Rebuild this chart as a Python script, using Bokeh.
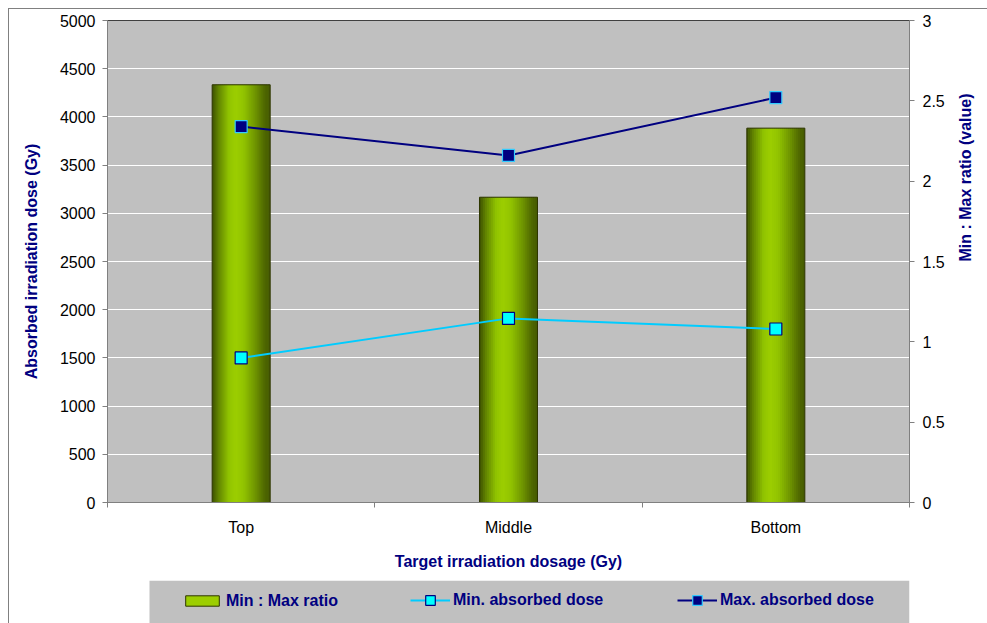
import math

from bokeh.embed import file_html
from bokeh.layouts import column
from bokeh.models import (BoxAnnotation, ColumnDataSource, FixedTicker, Legend,
                          LegendItem, LinearAxis, NumeralTickFormatter, Range1d)
from bokeh.plotting import figure
from bokeh.resources import INLINE
from bokeh.transform import dodge

# ---- data -------------------------------------------------------------
categories = ["Top", "Middle", "Bottom"]
min_max_ratio = [2.6, 1.9, 2.33]
min_absorbed_dose = [1500, 1910, 1800]
max_absorbed_dose = [3900, 3600, 4200]

dose_ticks = [0, 500, 1000, 1500, 2000, 2500, 3000, 3500, 4000, 4500, 5000]
ratio_ticks = [0, 0.5, 1, 1.5, 2, 2.5, 3]

# ---- styling ------------------------------------------------------------
FONT = "Liberation Sans"
NAVY = "#000080"
PLOT_BG = "#c0c0c0"
AXIS_GREY = "#808080"

# horizontal shading of each cylinder-like bar: (position across bar, r, g, b)
BAR_SHADE = [(0.0, 56, 74, 0), (0.12, 98, 132, 0), (0.3, 145, 196, 0),
             (0.42, 156, 206, 0), (0.55, 146, 196, 0), (0.75, 112, 150, 0),
             (0.9, 82, 108, 0), (1.0, 68, 88, 0)]
N_STRIPS = 29
BAR_WIDTH = 0.217

MIN_LINE = dict(line_color="#00ccff", line_width=2)
MIN_MARK = dict(marker="square", size=12, fill_color="#00ffff",
                line_color=NAVY, line_width=1.2)
MAX_LINE = dict(line_color=NAVY, line_width=2)
MAX_MARK = dict(marker="square", size=12, fill_color=NAVY,
                line_color="#33ccff", line_width=1.2)
BAR_EDGE = dict(fill_color=None, line_color="#2e3600", line_width=1)

FRAME_W = 802          # plot area width in pixels
LEGEND_H = 43          # height of the legend strip

slots = list(range(len(categories)))
x_centers = [i + 0.5 for i in slots]
boundaries = list(range(len(categories) + 1))

src = ColumnDataSource(dict(x=x_centers, ratio=min_max_ratio,
                            min_dose=min_absorbed_dose,
                            max_dose=max_absorbed_dose))

# ---- main chart ---------------------------------------------------------
p = figure(width=987, height=580, output_backend="svg", toolbar_location=None,
           x_range=Range1d(0, len(categories)), y_range=Range1d(0, dose_ticks[-1]),
           min_border_left=107, min_border_right=78, min_border_top=20,
           min_border_bottom=78, background_fill_color=PLOT_BG,
           border_fill_color=None, outline_line_color="#404040",
           outline_line_width=1)
p.extra_y_ranges = {"ratio": Range1d(0, ratio_ticks[-1])}

p.xgrid.visible = False
p.ygrid.ticker = FixedTicker(ticks=dose_ticks)
p.ygrid.grid_line_color = "white"
p.ygrid.grid_line_width = 1


def style_axis(ax):
    ax.axis_line_color = AXIS_GREY
    ax.major_tick_line_color = AXIS_GREY
    ax.minor_tick_line_color = AXIS_GREY
    ax.major_tick_in = 0
    ax.minor_tick_in = 0
    ax.major_label_text_font = FONT
    ax.major_label_text_font_size = "16px"
    ax.major_label_text_color = "black"
    ax.axis_label_text_font = FONT
    ax.axis_label_text_font_size = "16px"
    ax.axis_label_text_font_style = "bold"
    ax.axis_label_text_color = NAVY


xax = p.xaxis[0]
style_axis(xax)
xax.ticker = FixedTicker(ticks=x_centers, minor_ticks=boundaries)
xax.major_label_overrides = {x: c for x, c in zip(x_centers, categories)}
xax.major_tick_out = 0
xax.minor_tick_out = 5
xax.major_label_standoff = 11
xax.axis_label = "Target irradiation dosage (Gy)"
xax.axis_label_standoff = 14

yax = p.yaxis[0]
style_axis(yax)
yax.ticker = FixedTicker(ticks=dose_ticks)
yax.major_tick_out = 5
yax.minor_tick_out = 0
yax.major_label_standoff = 7
yax.axis_label = "Absorbed irradiation dose (Gy)"
yax.axis_label_standoff = 17

rax = LinearAxis(y_range_name="ratio", ticker=FixedTicker(ticks=ratio_ticks),
                 formatter=NumeralTickFormatter(format="0.[0]"),
                 axis_label="Min : Max ratio (value)")
style_axis(rax)
rax.major_tick_out = 5
rax.minor_tick_out = 0
rax.major_label_standoff = 8
rax.axis_label_standoff = 18
rax.axis_label_orientation = math.pi / 2
p.add_layout(rax, "right")


def shade(t):
    for (t0, r0, g0, b0), (t1, r1, g1, b1) in zip(BAR_SHADE, BAR_SHADE[1:]):
        if t0 <= t <= t1:
            f = (t - t0) / (t1 - t0)
            return "#%02x%02x%02x" % (round(r0 + (r1 - r0) * f),
                                      round(g0 + (g1 - g0) * f),
                                      round(b0 + (b1 - b0) * f))
    return "#%02x%02x%02x" % BAR_SHADE[-1][1:]


# shaded bars (Min : Max ratio, right axis), built from overlapping narrow strips
strip_w = BAR_WIDTH / N_STRIPS
for k in range(N_STRIPS):
    off = -BAR_WIDTH / 2 + (k + 0.5) * strip_w
    w = strip_w * (1.0 if k in (0, N_STRIPS - 1) else 1.7)
    p.vbar(x=dodge("x", off, range=p.x_range), width=w,
           top="ratio", bottom=0, source=src, y_range_name="ratio",
           fill_color=shade((k + 0.5) / N_STRIPS), line_color=None)
p.vbar(x="x", width=BAR_WIDTH, top="ratio", bottom=0, source=src,
       y_range_name="ratio", **BAR_EDGE)

# dose lines (left axis)
p.line("x", "min_dose", source=src, **MIN_LINE)
p.scatter("x", "min_dose", source=src, **MIN_MARK)
p.line("x", "max_dose", source=src, **MAX_LINE)
p.scatter("x", "max_dose", source=src, **MAX_MARK)

# ---- legend strip under the chart (pixel-scaled ranges) -----------------
lg = figure(width=987, height=LEGEND_H, output_backend="svg", toolbar_location=None,
            x_axis_location=None, y_axis_location=None,
            x_range=Range1d(0, FRAME_W), y_range=Range1d(0, LEGEND_H),
            min_border_left=107, min_border_right=78, min_border_top=0,
            min_border_bottom=0, background_fill_color=None,
            border_fill_color=None, outline_line_color=None)
lg.grid.visible = False
lg.add_layout(BoxAnnotation(left=42, right=FRAME_W, fill_color=PLOT_BG,
                            fill_alpha=1, line_color=None))

# legend keys share the styles of the marks above; they are not drawn here
key_bar = lg.vbar(x="x", width=BAR_WIDTH, top="ratio", source=src,
                  fill_color=shade(0.42), line_color=None, visible=False)
key_edge = lg.vbar(x="x", width=BAR_WIDTH, top="ratio", source=src,
                   visible=False, **BAR_EDGE)
key_min_l = lg.line("x", "min_dose", source=src, visible=False, **MIN_LINE)
key_min_m = lg.scatter("x", "min_dose", source=src, visible=False, **MIN_MARK)
key_max_l = lg.line("x", "max_dose", source=src, visible=False, **MAX_LINE)
key_max_m = lg.scatter("x", "max_dose", source=src, visible=False, **MAX_MARK)


def make_legend(label, renderers, loc, gw, gh):
    return Legend(items=[LegendItem(label=label, renderers=renderers)],
                  location=loc, orientation="horizontal", padding=0, spacing=0,
                  margin=0, background_fill_alpha=0, border_line_color=None,
                  glyph_width=gw, glyph_height=gh, label_height=gh,
                  label_standoff=3, label_text_font=FONT,
                  label_text_font_size="16px", label_text_font_style="bold",
                  label_text_color=NAVY, click_policy="none")


lg.add_layout(make_legend("Min : Max ratio", [key_bar, key_edge], (74, 13.5), 42, 13), "center")
lg.add_layout(make_legend("Min. absorbed dose", [key_min_l, key_min_m], (303, 11), 40, 24), "center")
lg.add_layout(make_legend("Max. absorbed dose", [key_max_l, key_max_m], (570, 11), 40, 24), "center")

# white chart area with its thin grey border along the left and top
page = column(p, lg, spacing=0, styles={
    "background": "linear-gradient(#808080, #808080) 8px 8px / 1px 100% no-repeat, "
                  "linear-gradient(#808080, #808080) 8px 8px / 100% 1px no-repeat, "
                  "#ffffff"})

open("out.html", "w").write(file_html(page, INLINE))
